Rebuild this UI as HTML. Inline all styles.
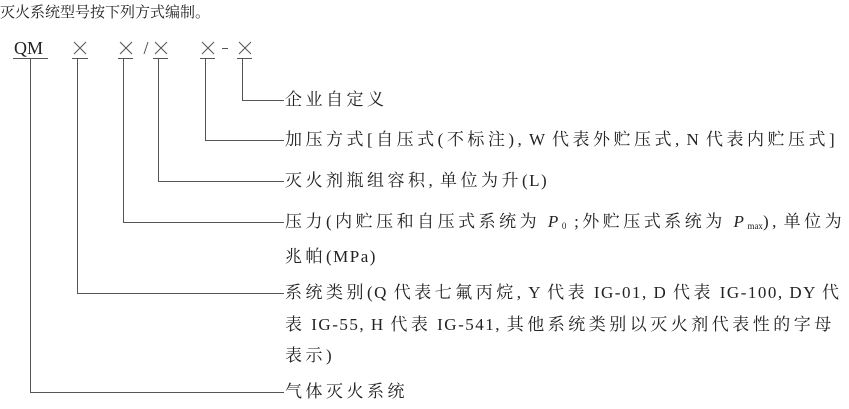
<!DOCTYPE html>
<html><head><meta charset="utf-8"><style>
body{margin:0;width:849px;height:409px;background:#fff;position:relative;overflow:hidden;font-family:"Liberation Serif","Noto Serif CJK SC","Noto Sans CJK SC",serif;color:#222}
.t{position:absolute;white-space:nowrap;font-size:17px;line-height:20px;letter-spacing:3.5px}
.l{letter-spacing:1.5px}
svg{position:absolute;left:0;top:0}
sub{font-size:9px;vertical-align:-2px;letter-spacing:0}
</style></head><body>
<svg width="849" height="409">
<g stroke="#555" stroke-width="1" fill="none">
<line x1="13" y1="58.5" x2="48" y2="58.5"/>
<line x1="72" y1="58.5" x2="88" y2="58.5"/>
<line x1="118" y1="58.5" x2="133" y2="58.5"/>
<line x1="153" y1="58.5" x2="168" y2="58.5"/>
<line x1="200" y1="58.5" x2="215" y2="58.5"/>
<line x1="237" y1="58.5" x2="252" y2="58.5"/>
<path d="M74 42 L86 54 M86 42 L74 54 M120 42 L132 54 M132 42 L120 54 M155 42 L167 54 M167 42 L155 54 M202 42 L214 54 M214 42 L202 54 M239 42 L251 54 M251 42 L239 54"/>
<line x1="144" y1="54" x2="148" y2="42"/>
<line x1="222" y1="48.5" x2="228" y2="48.5"/>
<polyline points="242.5,59 242.5,100.5 284,100.5"/>
<polyline points="205.5,59 205.5,140.5 284,140.5"/>
<polyline points="158.5,59 158.5,181.5 284,181.5"/>
<polyline points="123.5,59 123.5,222.5 284,222.5"/>
<polyline points="77.5,59 77.5,293.5 284,293.5"/>
<polyline points="30.5,59 30.5,392.5 284,392.5"/>
</g></svg>
<div class="t" style="left:0;top:3px;font-size:15px;letter-spacing:0">灭火系统型号按下列方式编制。</div>
<div class="t" style="left:14px;top:38px;font-size:18px;letter-spacing:0">QM</div>
<div class="t" style="left:285px;top:90px">企业自定义</div>
<div class="t" style="left:285px;top:130px">加压方式[自压式(不标注)<span class="l">, W </span>代表外贮压式<span class="l">, N </span>代表内贮压式]</div>
<div class="t" style="left:285px;top:171px">灭火剂瓶组容积<span class="l">, </span>单位为升<span class="l">(L)</span></div>
<div class="t" style="left:285px;top:212px">压力(内贮压和自压式系统为 <i>P</i><sub>0</sub> ;外贮压式系统为 <i>P</i><sub>max</sub>)<span class="l">, </span>单位为</div>
<div class="t" style="left:285px;top:247px">兆帕<span class="l">(MPa)</span></div>
<div class="t" style="left:285px;top:283px">系统类别<span class="l">(Q </span>代表七氟丙烷<span class="l">, Y </span>代表<span class="l"> IG-01, D </span>代表<span class="l"> IG-100, DY </span>代</div>
<div class="t" style="left:285px;top:315px">表<span class="l"> IG-55, H </span>代表<span class="l"> IG-541, </span>其他系统类别以灭火剂代表性的字母</div>
<div class="t" style="left:285px;top:346px">表示)</div>
<div class="t" style="left:285px;top:382px">气体灭火系统</div>
</body></html>
